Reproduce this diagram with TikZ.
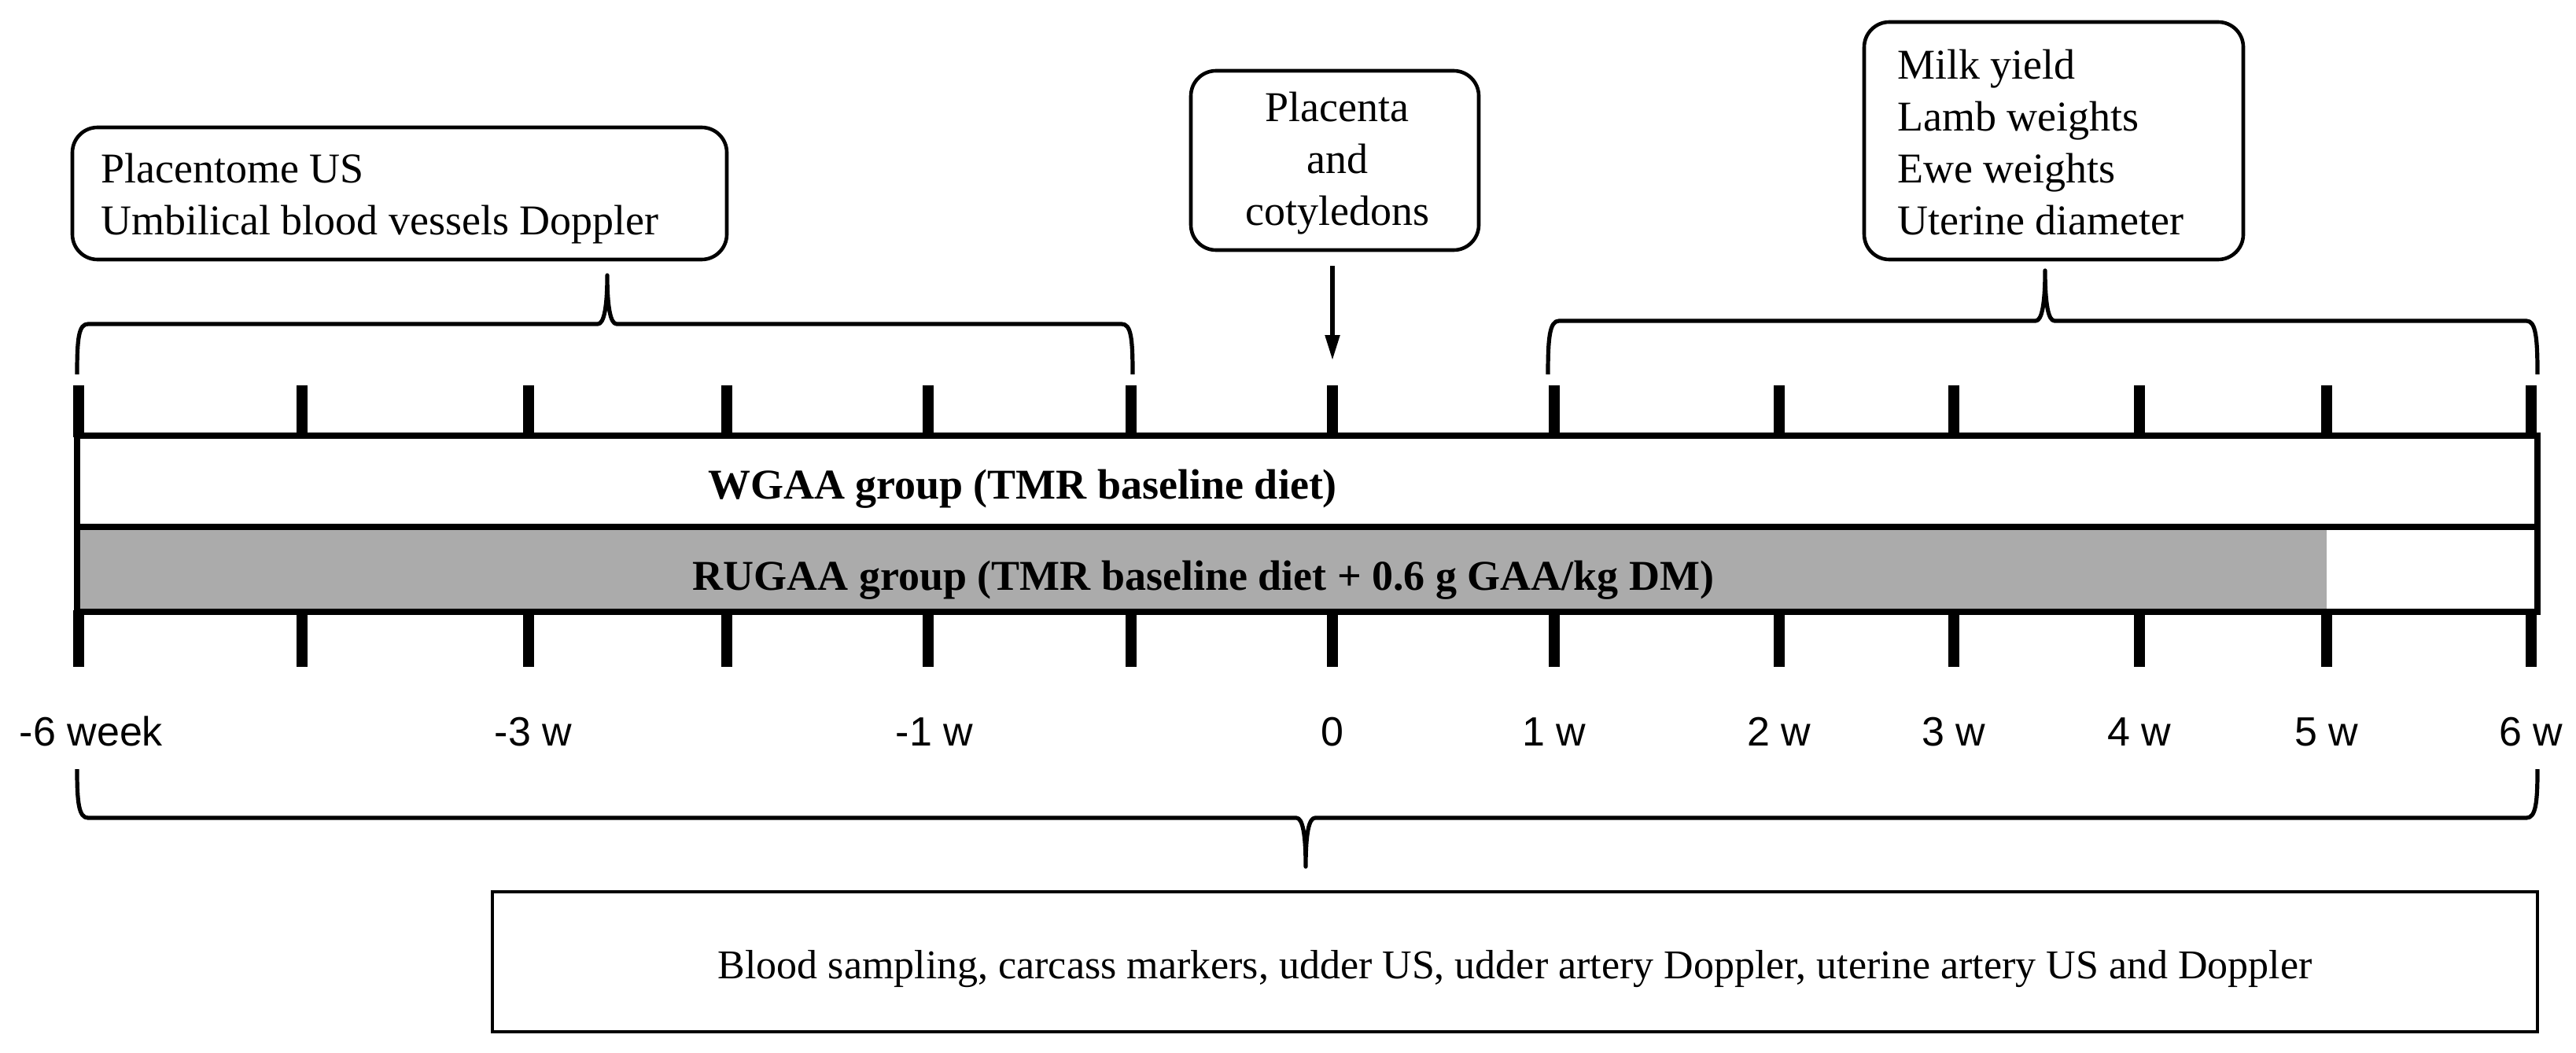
\documentclass[tikz,border=0pt]{standalone}
\usepackage{fontspec}
\setmainfont{Liberation Serif}
\newfontfamily\lsans{Liberation Sans}
\usetikzlibrary{arrows.meta}
\definecolor{bargray}{HTML}{ABABAB}
\begin{document}
\begin{tikzpicture}[x=1pt,y=-1pt,
  frame/.style={line width=2.3pt,rounded corners=16pt},
  txt/.style={align=left,inner sep=0pt,font=\fontsize{27}{33}\selectfont},
  tick/.style={line width=7pt},
  br/.style={line width=2.6pt,line join=round},
  lab/.style={font=\lsans\fontsize{26}{30}\selectfont,anchor=base,inner sep=0pt},
  bold/.style={font=\bfseries\fontsize{27}{30}\selectfont,anchor=base,inner sep=0pt}]
\useasboundingbox (0,0) rectangle (1637.5,669);
% top boxes (node base = baseline of last line)
\draw[frame] (46,81) rectangle (462,165);
\node[txt,anchor=base west] (b1) at (64,149) {Placentome US\\Umbilical blood vessels Doppler};
\draw[frame] (757,45) rectangle (940,159);
\node[txt,align=center,anchor=base] (b2) at (850,143) {Placenta\\and\\cotyledons};
\draw[frame] (1185,14) rectangle (1426,165);
\node[txt,anchor=base west] (b3) at (1206,149) {Milk yield\\Lamb weights\\Ewe weights\\Uterine diameter};
% arrow
\coordinate (a1) at (847,169);
\coordinate (a2) at (847,229);
\draw[line width=2.6pt,-{Triangle[length=16pt,width=9pt]}] (a1) -- (a2);
% braces
\draw[br] (49,238) .. controls (49,215) and (50,206) .. (56,206) -- (380,206) .. controls (384,206) and (386,195) .. (386,175)
  .. controls (386,195) and (388,206) .. (392,206) -- (713,206) .. controls (719,206) and (720,215) .. (720,238);
\draw[br] (984,238) .. controls (984,215) and (985,204) .. (991,204) -- (1294,204) .. controls (1298,204) and (1300,193) .. (1300,172)
  .. controls (1300,193) and (1302,204) .. (1306,204) -- (1606,204) .. controls (1612,204) and (1613,215) .. (1613,238);
\draw[br] (49,489) .. controls (49,510) and (50,520) .. (56,520) -- (824,520) .. controls (828,520) and (830,530) .. (830,551)
  .. controls (830,530) and (832,520) .. (836,520) -- (1606,520) .. controls (1612,520) and (1613,510) .. (1613,489);
% ticks
\foreach \x in {50,192,336,462,590,719,847,988,1131,1242,1360,1479,1609}{
  \draw[tick] (\x,245) -- (\x,278);
  \draw[tick] (\x,388) -- (\x,424);}
% bars
\draw[line width=4pt,fill=white] (49,277) rectangle (1613,335);
\draw[line width=4pt,fill=white] (49,335) rectangle (1613,389);
\fill[bargray] (51,337) rectangle (1479,387);
\node[bold] (w) at (650,317) {WGAA group (TMR baseline diet)};
\node[bold] (r) at (765,375) {RUGAA group (TMR baseline diet + 0.6 g GAA/kg DM)};
% labels
\node[lab] (l0) at (58,474) {-6 week};
\node[lab] (l1) at (339,474) {-3 w};
\node[lab] (l2) at (594,474) {-1 w};
\node[lab] (l3) at (847,474) {0};
\node[lab] (l4) at (988,474) {1 w};
\node[lab] (l5) at (1131,474) {2 w};
\node[lab] (l6) at (1242,474) {3 w};
\node[lab] (l7) at (1360,474) {4 w};
\node[lab] (l8) at (1479,474) {5 w};
\node[lab] (l9) at (1609,474) {6 w};
% bottom box
\draw[line width=2.3pt] (313,567) rectangle (1613,656);
\node[font=\fontsize{26}{30}\selectfont,anchor=base,inner sep=0pt] (bb) at (963,622) {Blood sampling, carcass markers, udder US, udder artery Doppler, uterine artery US and Doppler};
\end{tikzpicture}
\end{document}
